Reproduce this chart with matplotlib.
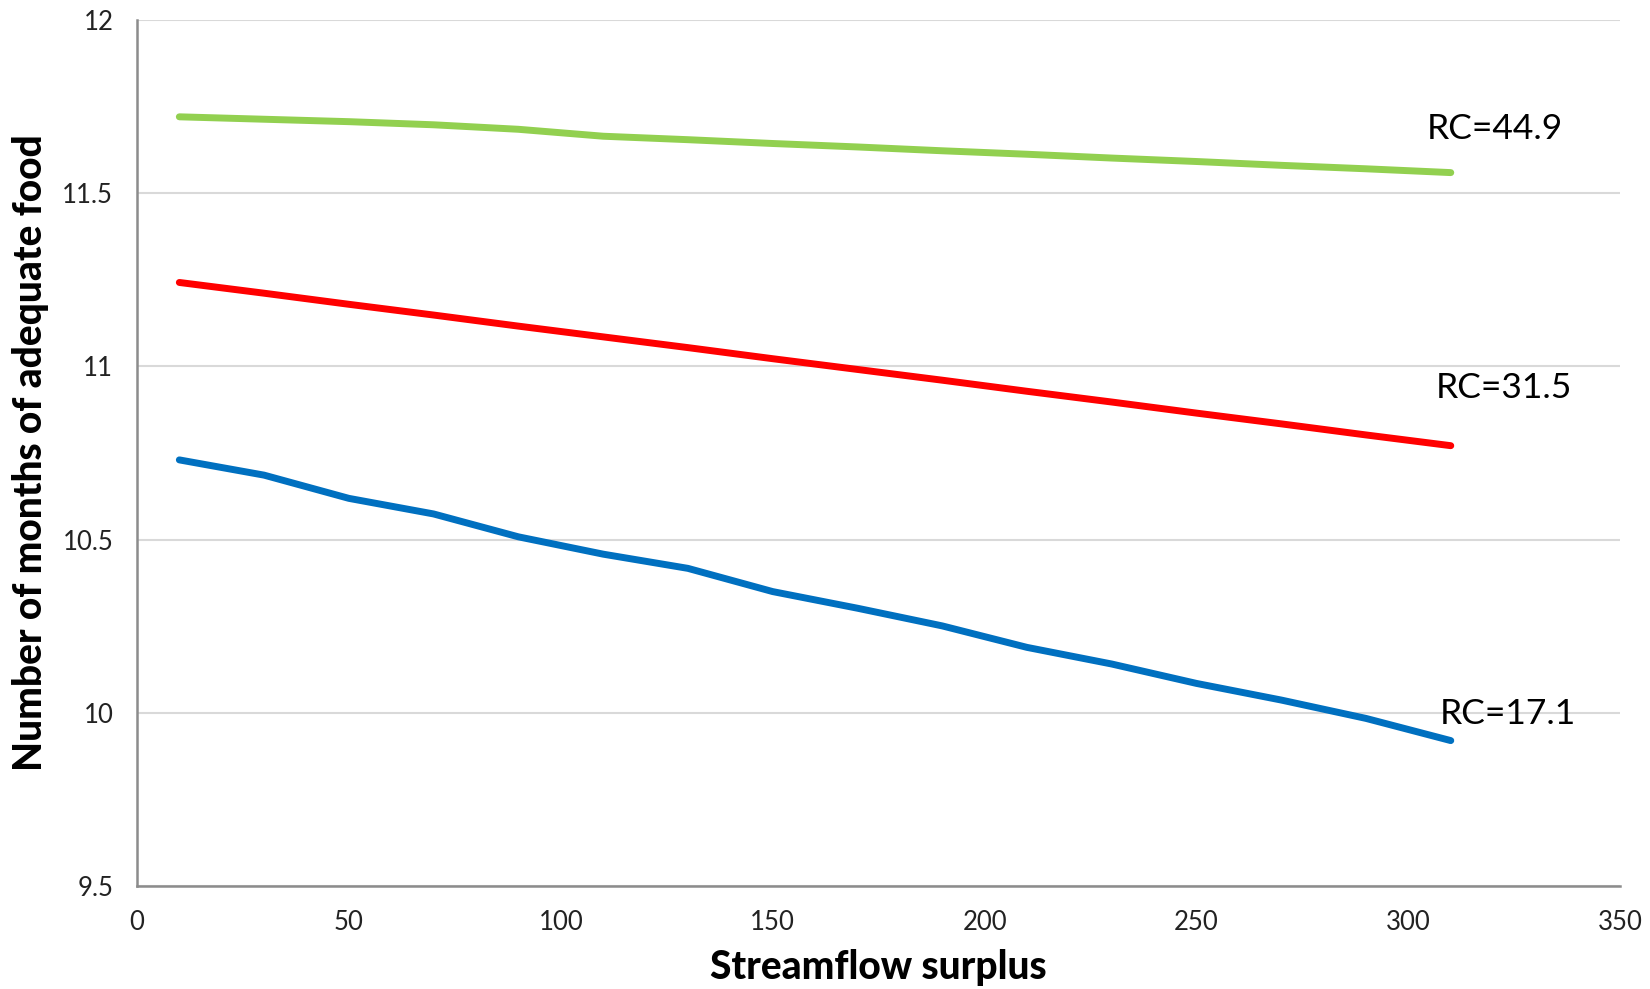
import matplotlib
matplotlib.use("Agg")
import matplotlib.pyplot as plt

# Data
x_vals = [10, 30, 50, 70, 90, 110, 130, 150, 170, 190, 210, 230, 250, 270, 290, 310]
rc_449 = [11.720, 11.713, 11.706, 11.697, 11.684, 11.664, 11.654, 11.643, 11.633, 11.622,
          11.612, 11.601, 11.591, 11.580, 11.570, 11.559]
rc_315 = [11.242, 11.211, 11.179, 11.148, 11.116, 11.085, 11.054, 11.022, 10.991, 10.960,
          10.928, 10.897, 10.865, 10.834, 10.802, 10.771]
rc_171 = [10.730, 10.686, 10.619, 10.574, 10.508, 10.458, 10.417, 10.350, 10.302, 10.251,
          10.189, 10.141, 10.085, 10.037, 9.984, 9.920]
series_labels = ["RC=44.9", "RC=31.5", "RC=17.1"]
label_pos = [(320.5, 11.685), (322.5, 10.937), (323.5, 9.996)]
x_ticks = [0, 50, 100, 150, 200, 250, 300, 350]
y_ticks = [9.5, 10, 10.5, 11, 11.5, 12]
y_tick_labels = ["9.5", "10", "10.5", "11", "11.5", "12"]
colors = ["#92D050", "#FF0000", "#0070C0"]

plt.rcParams['font.family'] = ['Lato', 'DejaVu Sans']

fig = plt.figure(figsize=(16.5, 9.89), dpi=100)
ax = fig.add_axes([0.083, 0.104, 0.899, 0.876])

for ys, c in zip([rc_449, rc_315, rc_171], colors):
    ax.plot(x_vals, ys, color=c, lw=5, solid_capstyle='round', solid_joinstyle='round', zorder=3)

for lab, (lx, ly) in zip(series_labels, label_pos):
    ax.text(lx, ly, lab, fontsize=25.5, ha='center', va='center', color='black')

ax.set_xlim(0, 350)
ax.set_ylim(9.5, 12)
ax.set_xticks(x_ticks)
ax.set_xticklabels([str(t) for t in x_ticks])
ax.set_yticks(y_ticks)
ax.set_yticklabels(y_tick_labels)
ax.tick_params(axis='both', length=0, labelsize=18.5, colors='#222222')
ax.tick_params(axis='x', pad=17)
ax.tick_params(axis='y', pad=17)

ax.grid(axis='y', color='#D9D9D9', lw=1.5, zorder=0)
ax.set_axisbelow(True)
for s in ['top', 'right']:
    ax.spines[s].set_visible(False)
for s in ['left', 'bottom']:
    ax.spines[s].set_color('#8C8C8C')
    ax.spines[s].set_linewidth(1.8)

ax.set_xlabel("Streamflow surplus", fontsize=28, fontweight='black')
ax.set_ylabel("Number of months of adequate food", fontsize=28, fontweight='black')
ax.xaxis.set_label_coords(0.5, -0.094)
ax.xaxis.label.set_va('center')
ax.yaxis.set_label_coords(-0.0715, 0.5)
ax.yaxis.label.set_va('center')

fig.savefig("out.png", dpi=100)
